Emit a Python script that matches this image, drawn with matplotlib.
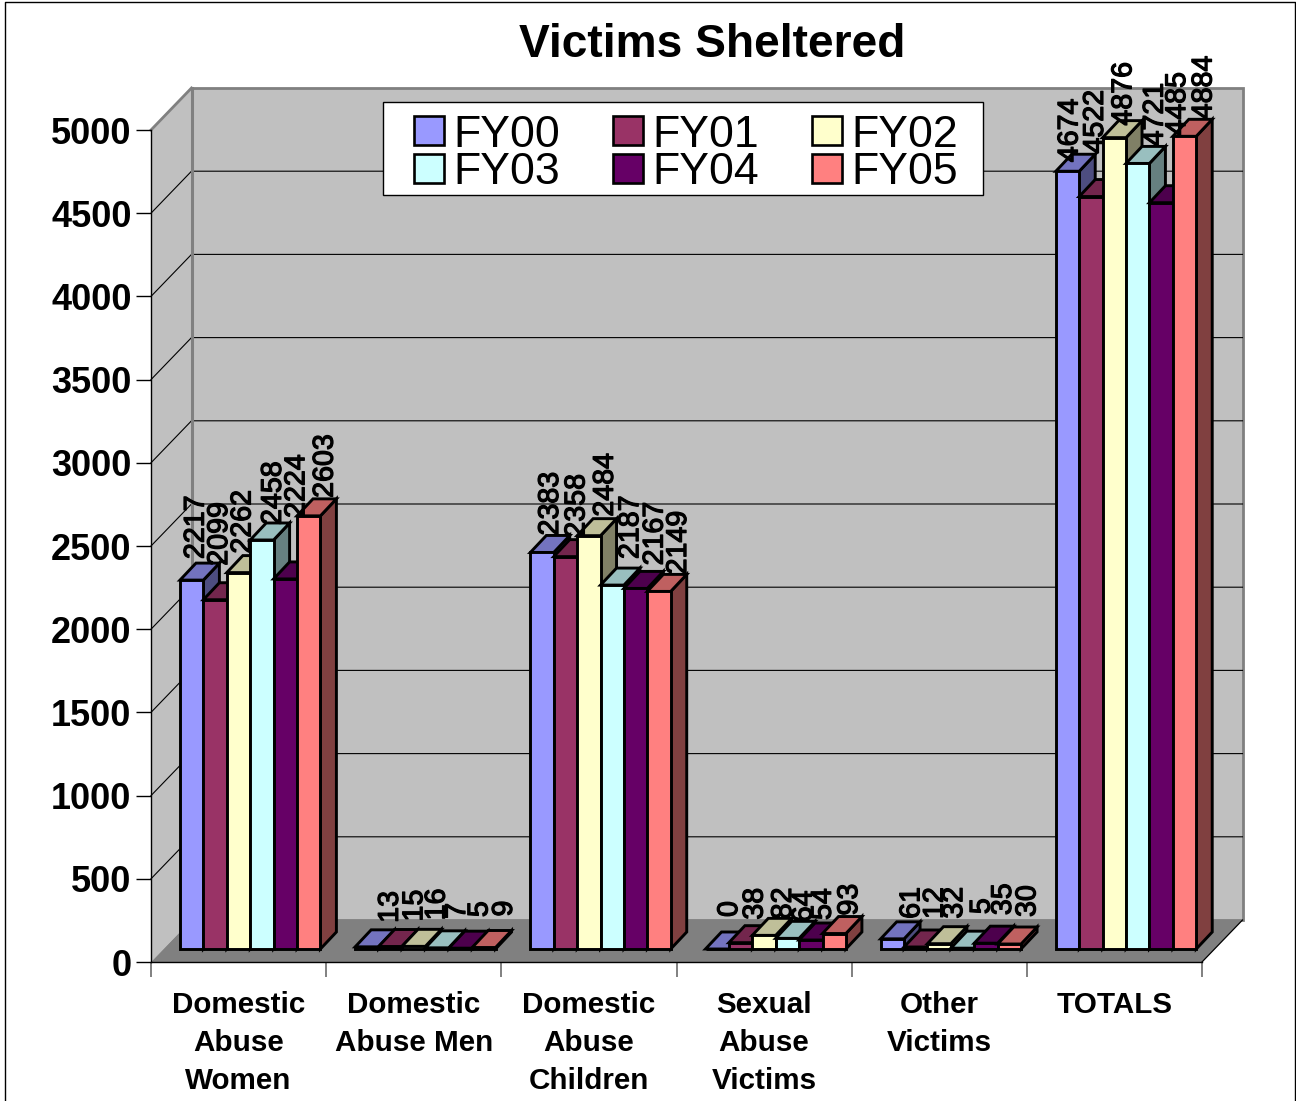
import numpy as np
import matplotlib
matplotlib.use("Agg")
import matplotlib.pyplot as plt
import matplotlib.patheffects as pe
from matplotlib.patches import Polygon, Patch, Rectangle
from matplotlib.lines import Line2D
from matplotlib.colors import to_rgb

plt.rcParams['font.family'] = ['Liberation Sans', 'DejaVu Sans']

categories = ["Domestic\nAbuse\nWomen", "Domestic\nAbuse Men", "Domestic\nAbuse\nChildren",
              "Sexual\nAbuse\nVictims", "Other\nVictims", "TOTALS"]
years = ["FY00", "FY01", "FY02", "FY03", "FY04", "FY05"]

fy00 = [2217, 13, 2383, 0, 61, 4674]
fy01 = [2099, 15, 2358, 38, 12, 4522]
fy02 = [2262, 16, 2484, 82, 32, 4876]
fy03 = [2458, 7, 2187, 64, 5, 4721]
fy04 = [2224, 5, 2167, 54, 35, 4485]
fy05 = [2603, 9, 2149, 93, 30, 4884]
series = [fy00, fy01, fy02, fy03, fy04, fy05]

colors = ["#9999FF", "#993366", "#FFFFCC", "#CCFFFF", "#660066", "#FF8080"]

# the value labels were pushed around by the original app, pixels from the bar top
label_dx = [[2, 21, 6, 10, 17, 0],
            [2, 22, 9, 12, 17, 2],
            [2, 21, 14, 17, 13, 7],
            [9, 18, 16, 14, 17, 15],
            [9, 17, 17, 10, 15, 14],
            [14, 18, 17, 13, 16, 17]]
label_gap = [[23, 26, 19, 34, 22, 11],
             [36, 27, 21, 25, 30, 45],
             [21, 28, 21, 18, 27, 14],
             [17, 31, 28, 18, 36, 19],
             [63, 33, 25, 22, 30, 69],
             [20, 33, 19, 20, 29, 19]]

W, H = 1296, 1101
fig = plt.figure(figsize=(W / 100, H / 100), dpi=100)
ax = fig.add_axes([151 / W, 1 - 962 / H, 1051 / W, 832 / H])
ax.set_xlim(0, 6)
ax.set_ylim(0, 5000)
ax.patch.set_visible(False)

# size of one pixel in data units
px = 6 / 1051
py = 5000 / 832

wall_dx = 40.5 * px
wall_dy = 42 * py
grey = "#808080"
wall = "#C0C0C0"

# walls and floor
ax.add_patch(Polygon([(wall_dx, wall_dy), (6 + wall_dx, wall_dy), (6 + wall_dx, 5000 + wall_dy), (wall_dx, 5000 + wall_dy)],
                     closed=True, fc=wall, ec=grey, lw=2, clip_on=False, zorder=1))
ax.add_patch(Polygon([(0, 0), (wall_dx, wall_dy), (wall_dx, 5000 + wall_dy), (0, 5000)],
                     closed=True, fc=wall, ec="none", clip_on=False, zorder=1))
ax.add_patch(Polygon([(0, 0), (6, 0), (6 + wall_dx, wall_dy), (wall_dx, wall_dy)],
                     closed=True, fc=grey, ec="none", clip_on=False, zorder=1.1))

# gridlines run along the back wall and down the side wall
for v in np.arange(500, 5000, 500):
    ax.plot([0, wall_dx, 6 + wall_dx], [v, v + wall_dy, v + wall_dy], color="black", lw=0.8, clip_on=False, zorder=1.2)
ax.plot([0, wall_dx], [5000, 5000 + wall_dy], color=grey, lw=2, clip_on=False, zorder=1.2)
ax.plot([wall_dx, wall_dx], [wall_dy, 5000 + wall_dy], color=grey, lw=2.2, clip_on=False, zorder=1.2)
ax.plot([6, 6 + wall_dx], [0, wall_dy], color="black", lw=0.9, clip_on=False, zorder=1.2)

# bars, painted left to right so each one covers its neighbour's side
bar_w = 23.4 * px
start = 29 * px
base = 13 * py
depth_x = 16 * px
depth_y = 17 * py
z = 3
for c in range(len(categories)):
    for s in range(len(series)):
        v = series[s][c]
        rgb = np.array(to_rgb(colors[s]))
        x0 = c + start + s * bar_w
        x1 = x0 + bar_w
        y0 = base
        y1 = base + v
        top = [(x0, y1), (x1, y1), (x1 + depth_x, y1 + depth_y), (x0 + depth_x, y1 + depth_y)]
        side = [(x1, y0), (x1 + depth_x, y0 + depth_y), (x1 + depth_x, y1 + depth_y), (x1, y1)]
        front = [(x0, y0), (x1, y0), (x1, y1), (x0, y1)]
        ax.add_patch(Polygon(side, closed=True, fc=rgb * 0.5, ec="black", lw=2.1, joinstyle="miter", clip_on=False, zorder=z))
        ax.add_patch(Polygon(top, closed=True, fc=rgb * 0.75, ec="black", lw=2.1, joinstyle="miter", clip_on=False, zorder=z))
        ax.add_patch(Polygon(front, closed=True, fc=rgb, ec="black", lw=2.1, joinstyle="miter", clip_on=False, zorder=z))
        z += 0.01

for c in range(len(categories)):
    for s in range(len(series)):
        v = series[s][c]
        xc = c + start + (s + 0.5) * bar_w
        t = ax.annotate(str(v), (xc, base + v), xytext=(label_dx[s][c] + 2, label_gap[s][c] - 2), textcoords="offset pixels",
                        rotation=90, ha="center", va="bottom", fontsize=20.6, color="black", annotation_clip=False, zorder=10)
        t.set_path_effects([pe.withStroke(linewidth=0.9, foreground="black")])

# axes
for side in ["top", "right"]:
    ax.spines[side].set_visible(False)
ax.spines["left"].set_linewidth(1.0)
ax.spines["bottom"].set_linewidth(1.0)

ax.set_yticks(np.arange(0, 5001, 500))
ax.tick_params(axis="y", length=10.8, width=1.0, pad=3.2, labelsize=26)
for t in ax.get_yticklabels():
    t.set_fontweight("bold")

ax.set_xticks(np.arange(7))
ax.set_xticklabels([])
ax.tick_params(axis="x", which="major", length=10.8, width=1.4, color=grey)
ax.xaxis.get_major_ticks()[0].tick1line.set_color("black")
ax.set_xticks(np.arange(6) + 0.5, minor=True)
ax.set_xticklabels(categories, minor=True, fontsize=21.3, fontweight="bold", linespacing=1.45)
ax.tick_params(axis="x", which="minor", length=0, pad=20.9)

fig.text(712.5 / W, 1 - 45 / H, "Victims Sheltered", fontsize=33.2, fontweight="bold", ha="center", va="center")

# legend box drawn apart since its padding differs across and down
fig.add_artist(Rectangle((383 / W, 1 - 195 / H), 600 / W, 93 / H, transform=fig.transFigure,
                         fc="white", ec="black", lw=1.0, zorder=15))

# legend fills column by column, the original reads row by row
order = [0, 3, 1, 4, 2, 5]
handles = [Patch(facecolor=colors[i], edgecolor="black", linewidth=1.9, label=years[i]) for i in order]
leg = fig.legend(handles=handles, ncol=3, loc="center", bbox_to_anchor=(686 / W, 1 - 154 / H),
                 fontsize=32.1, frameon=False,
                 handlelength=0.67, handleheight=0.62, handletextpad=0.2, columnspacing=1.2,
                 labelspacing=-0.07, borderpad=0.0, borderaxespad=0)
leg.set_zorder(20)

# chart area border
border = Line2D([5 / W, 5 / W, 1295 / W, 1295 / W], [0, 1 - 2 / H, 1 - 2 / H, 0], color="black", lw=1.0,
                transform=fig.transFigure)
fig.add_artist(border)

fig.savefig("out.png", dpi=100)
